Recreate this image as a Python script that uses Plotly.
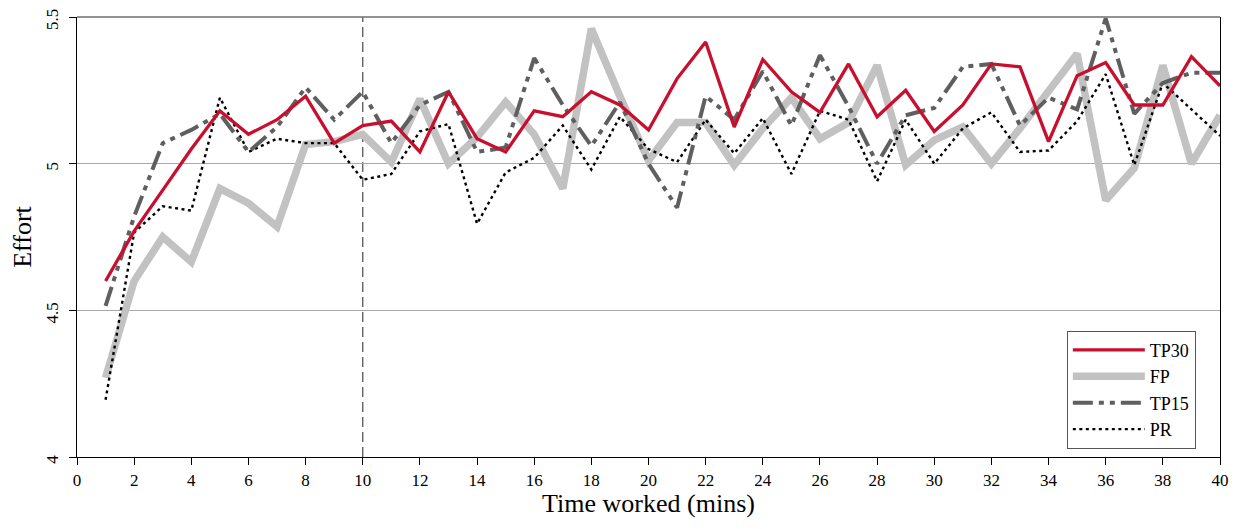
import plotly.graph_objects as go

time = list(range(1, 41))
tp30 = [4.60, 4.77, 4.91, 5.05, 5.18, 5.10, 5.15, 5.23, 5.07, 5.13,
        5.145, 5.04, 5.245, 5.085, 5.04, 5.18, 5.16, 5.245, 5.20, 5.115,
        5.29, 5.415, 5.125, 5.355, 5.245, 5.175, 5.34, 5.16, 5.25, 5.11,
        5.20, 5.34, 5.33, 5.075, 5.30, 5.345, 5.20, 5.20, 5.365, 5.265]
fp = [4.27, 4.60, 4.75, 4.665, 4.915, 4.865, 4.785, 5.065, 5.075, 5.10,
      5.005, 5.22, 5.00, 5.09, 5.21, 5.10, 4.915, 5.46, 5.23, 5.01,
      5.14, 5.14, 4.995, 5.12, 5.225, 5.085, 5.14, 5.335, 4.995, 5.08,
      5.125, 5.00, 5.12, 5.245, 5.375, 4.875, 4.985, 5.335, 5.00, 5.165]
tp15 = [4.515, 4.82, 5.07, 5.115, 5.17, 5.04, 5.125, 5.26, 5.15, 5.245,
        5.07, 5.20, 5.245, 5.04, 5.055, 5.36, 5.20, 5.06, 5.21, 5.00,
        4.85, 5.23, 5.15, 5.315, 5.13, 5.37, 5.195, 5.00, 5.165, 5.19,
        5.33, 5.34, 5.13, 5.225, 5.185, 5.495, 5.17, 5.275, 5.31, 5.31]
pr = [4.195, 4.765, 4.855, 4.84, 5.225, 5.04, 5.085, 5.07, 5.07, 4.945,
      4.965, 5.11, 5.135, 4.795, 4.97, 5.02, 5.13, 4.98, 5.16, 5.05,
      5.005, 5.15, 5.035, 5.155, 4.965, 5.18, 5.15, 4.94, 5.15, 5.00,
      5.12, 5.175, 5.04, 5.045, 5.145, 5.305, 4.995, 5.275, 5.185, 5.095]

x_ticks = list(range(0, 41, 2))
y_ticks = [4, 4.5, 5, 5.5]
y_tick_text = ["4", "4.5", "5", "5.5"]

font_family = "Liberation Serif, Times New Roman, serif"

fig = go.Figure()
fig.add_trace(go.Scatter(x=time, y=fp, mode="lines", name="FP",
                         line=dict(color="#c2c2c2", width=7.5), legendrank=2))
fig.add_trace(go.Scatter(x=time, y=pr, mode="lines", name="PR",
                         line=dict(color="black", width=2.4, dash="3px,3.5px"), legendrank=4))
fig.add_trace(go.Scatter(x=time, y=tp15, mode="lines", name="TP15",
                         line=dict(color="#5f5f5f", width=4,
                                   dash="20px,6px,5px,6px,5px,6px"), legendrank=3))
fig.add_trace(go.Scatter(x=time, y=tp30, mode="lines", name="TP30",
                         line=dict(color="#c8102e", width=3.3), legendrank=1))

fig.add_shape(type="line", xref="x", yref="y", x0=10, x1=10, y0=4, y1=5.5,
              line=dict(color="#555555", width=1.3, dash="10px,5px"), layer="below")
fig.add_shape(type="line", xref="paper", yref="paper", x0=0, x1=1, y0=1, y1=1,
              line=dict(color="#6e6e6e", width=1.5))

fig.update_layout(
    width=1233, height=521,
    margin=dict(l=69, r=21, t=9, b=72, autoexpand=False),
    paper_bgcolor="white", plot_bgcolor="white",
    font=dict(family=font_family, size=17, color="black"),
    showlegend=True,
    legend=dict(x=0.866, y=0.287, xanchor="left", yanchor="top",
                bordercolor="#555555", borderwidth=1, bgcolor="white",
                font=dict(family=font_family, size=18),
                traceorder="normal", tracegroupgap=0, itemwidth=72),
    xaxis=dict(range=[0, 40], tickmode="array", tickvals=x_ticks,
               ticks="outside", ticklen=7, tickcolor="black",
               showline=True, linecolor="black", linewidth=1.2,
               showgrid=False, zeroline=False, automargin=False,
               ticklabeloverflow="allow",
               title=dict(text="Time worked (mins)", font=dict(size=26, family=font_family), standoff=4),
               tickfont=dict(size=17, family=font_family)),
    yaxis=dict(range=[4, 5.5], tickmode="array", tickvals=y_ticks, ticktext=y_tick_text,
               ticks="outside", ticklen=7, tickcolor="black", tickangle=-90,
               showline=True, linecolor="black", linewidth=1.2, mirror=True,
               showgrid=True, gridcolor="#a9a9a9", gridwidth=1, zeroline=False,
               automargin=False, ticklabelstandoff=4, ticklabeloverflow="allow",
               ticklabelshift=5,
               title=dict(text="Effort", font=dict(size=26, family=font_family), standoff=8),
               tickfont=dict(size=17, family=font_family)),
)

fig.write_html("out.html")
